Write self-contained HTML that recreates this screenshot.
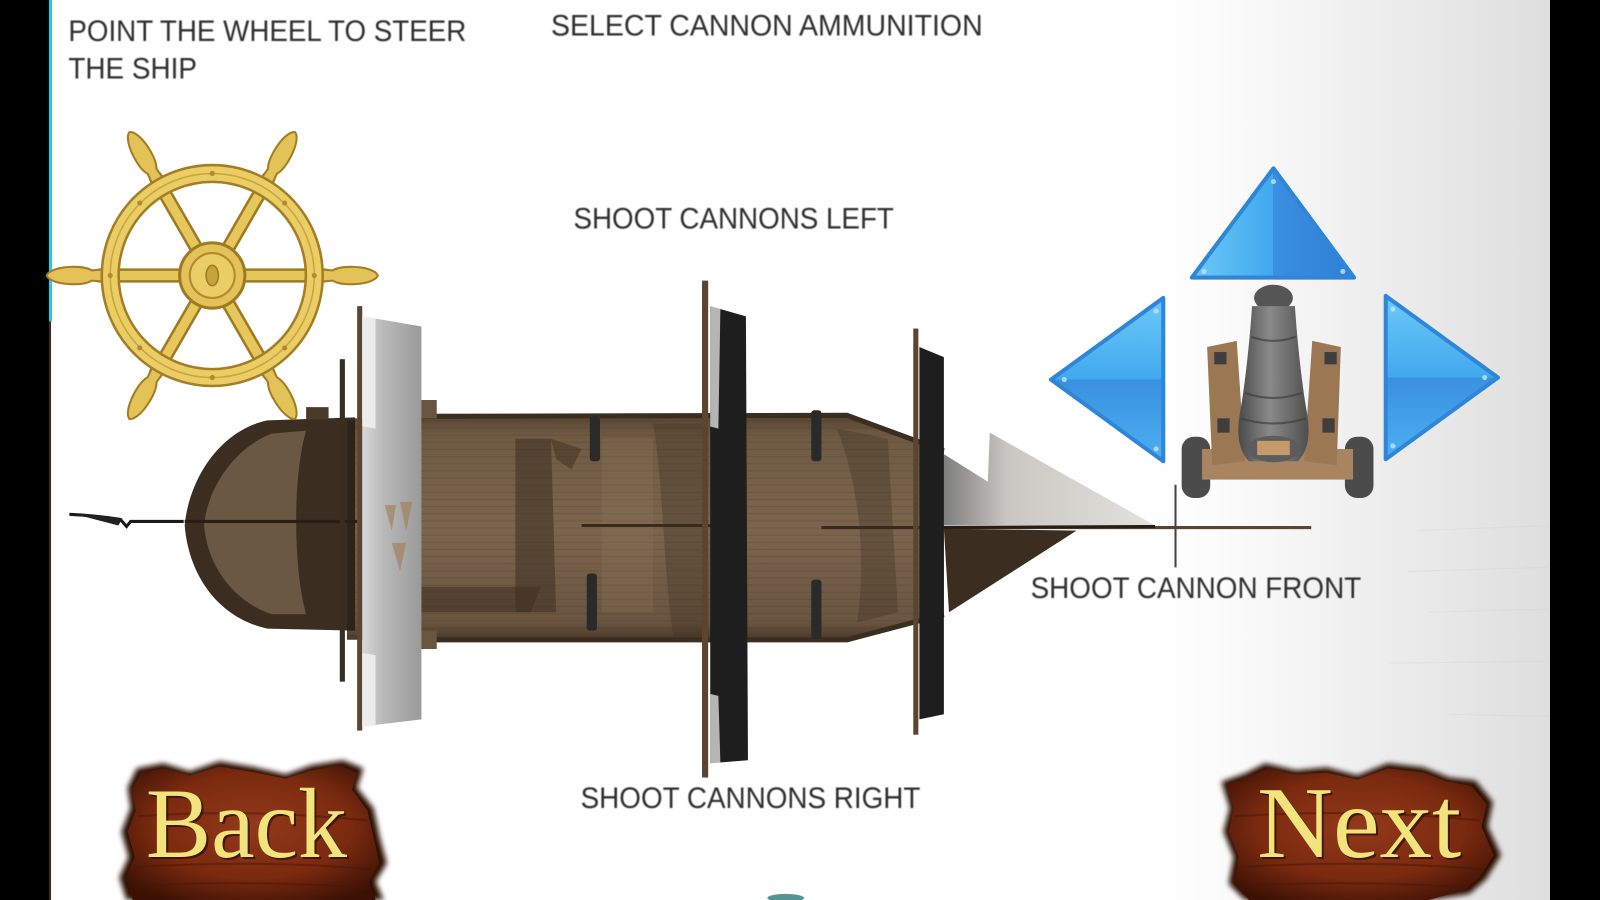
<!DOCTYPE html>
<html>
<head>
<meta charset="utf-8">
<style>
html,body{margin:0;padding:0;background:#fff;overflow:hidden;}
svg{display:block;}
</style>
</head>
<body>
<svg width="1600" height="900" viewBox="0 0 1568 882" xmlns="http://www.w3.org/2000/svg">
<defs>
  <linearGradient id="bgR" x1="0" y1="0" x2="1" y2="0">
    <stop offset="0" stop-color="#ffffff" stop-opacity="0"/>
    <stop offset="0.45" stop-color="#f4f4f4"/>
    <stop offset="1" stop-color="#dedede"/>
  </linearGradient>
  <linearGradient id="hull" x1="0" y1="0" x2="0" y2="1">
    <stop offset="0" stop-color="#5a4633"/>
    <stop offset="0.08" stop-color="#6f5a44"/>
    <stop offset="0.5" stop-color="#7b654e"/>
    <stop offset="0.92" stop-color="#6a5541"/>
    <stop offset="1" stop-color="#4a3a2a"/>
  </linearGradient>
  <linearGradient id="sailG" x1="0" y1="0" x2="1" y2="0">
    <stop offset="0" stop-color="#d8d8d8"/>
    <stop offset="0.35" stop-color="#b9b9b9"/>
    <stop offset="1" stop-color="#9a9a9a"/>
  </linearGradient>
  <linearGradient id="jib" x1="0" y1="0" x2="1" y2="0">
    <stop offset="0" stop-color="#7e7e7e"/>
    <stop offset="0.3" stop-color="#c9c7c2"/>
    <stop offset="1" stop-color="#e4e2dc"/>
  </linearGradient>
  <linearGradient id="barrel" x1="0" y1="0" x2="1" y2="0">
    <stop offset="0" stop-color="#4a4a4a"/>
    <stop offset="0.45" stop-color="#8a8a8a"/>
    <stop offset="1" stop-color="#4e4e4e"/>
  </linearGradient>
  <linearGradient id="blueUp" x1="0" y1="0" x2="1" y2="0">
    <stop offset="0" stop-color="#6cc9f7"/>
    <stop offset="0.5" stop-color="#3fa8ee"/>
    <stop offset="0.5" stop-color="#3a8fe0"/>
    <stop offset="1" stop-color="#2f7fd6"/>
  </linearGradient>
  <linearGradient id="blueL" x1="0" y1="0" x2="0" y2="1">
    <stop offset="0" stop-color="#6cc9f7"/>
    <stop offset="0.5" stop-color="#40a9ee"/>
    <stop offset="0.5" stop-color="#3a90e0"/>
    <stop offset="1" stop-color="#4bb0f0"/>
  </linearGradient>
  <radialGradient id="plank" cx="0.5" cy="0.45" r="0.65">
    <stop offset="0" stop-color="#93391a"/>
    <stop offset="0.6" stop-color="#7a2a0f"/>
    <stop offset="1" stop-color="#3c1104"/>
  </radialGradient>
  <filter id="soft" x="-10%" y="-10%" width="120%" height="120%">
    <feGaussianBlur stdDeviation="2.5"/>
  </filter>
  <filter id="txtb" x="-5%" y="-20%" width="110%" height="140%">
    <feGaussianBlur stdDeviation="0.6"/>
  </filter>
  <pattern id="planks" width="20" height="7" patternUnits="userSpaceOnUse">
    <rect width="20" height="7" fill="none"/>
    <line x1="0" y1="6.5" x2="20" y2="6.5" stroke="#3a2a1a" stroke-opacity="0.18" stroke-width="1"/>
  </pattern>
</defs>

<!-- background -->
<rect x="0" y="0" width="1568" height="882" fill="#ffffff"/>
<rect x="1080" y="0" width="440" height="882" fill="url(#bgR)"/>
<g stroke="#cfcfcf" stroke-opacity="0.35" stroke-width="1">
  <line x1="1380" y1="560" x2="1518" y2="556"/>
  <line x1="1400" y1="600" x2="1518" y2="597"/>
  <line x1="1360" y1="650" x2="1518" y2="648"/>
  <line x1="1420" y1="700" x2="1518" y2="702"/>
  <line x1="1390" y1="520" x2="1518" y2="515"/>
</g>

<!-- side bars -->
<rect x="0" y="0" width="48" height="882" fill="#000"/>
<rect x="48" y="0" width="3" height="315" fill="#27c8e8"/>
<rect x="48" y="315" width="2" height="567" fill="#3a2a1e"/>
<rect x="1519" y="0" width="49" height="882" fill="#000"/>

<!-- texts -->
<g font-family="'Liberation Sans', Arial, sans-serif" font-size="29" fill="#2e2e2e" filter="url(#txtb)">
  <text x="67" y="40" textLength="390" lengthAdjust="spacingAndGlyphs">POINT THE WHEEL TO STEER</text>
  <text x="67" y="77" textLength="126" lengthAdjust="spacingAndGlyphs">THE SHIP</text>
  <text x="540" y="35" textLength="423" lengthAdjust="spacingAndGlyphs">SELECT CANNON AMMUNITION</text>
  <text x="562" y="224" textLength="314" lengthAdjust="spacingAndGlyphs">SHOOT CANNONS LEFT</text>
  <text x="569" y="792" textLength="333" lengthAdjust="spacingAndGlyphs">SHOOT CANNONS RIGHT</text>
  <text x="1010" y="586" textLength="324" lengthAdjust="spacingAndGlyphs">SHOOT CANNON FRONT</text>
</g>

<!-- ===== SHIP ===== -->
<!-- stern pennant & spar -->
<path d="M68,504 C90,505 105,507 118,509 L124,516 L128,511 L180,511" fill="none" stroke="#1a1a1a" stroke-width="3"/>
<path d="M70,503 L120,508 L116,515 Z" fill="#222"/>

<!-- main hull -->
<path d="M340,410 L830,409 L925,443 L925,602 L830,627 L340,627 Z" fill="url(#hull)"/>
<path d="M340,410 L830,409 L925,443 L925,602 L830,627 L340,627 Z" fill="url(#planks)"/>
<!-- rails -->
<path d="M413,408 L830,407 L925,442" fill="none" stroke="#3b2d20" stroke-width="5"/>
<path d="M413,627 L830,627 L925,602" fill="none" stroke="#3b2d20" stroke-width="5"/>
<!-- deck shadows -->
<path d="M505,430 L540,430 L545,600 L505,600 Z" fill="#3e3022" opacity="0.55"/>
<path d="M540,430 L570,440 L560,460 L545,450 Z" fill="#3e3022" opacity="0.5"/>
<path d="M413,575 L530,575 L520,600 L413,600 Z" fill="#3e3022" opacity="0.55"/>
<path d="M640,415 L690,415 L690,625 L660,625 C650,560 650,470 640,415 Z" fill="#3e3022" opacity="0.35"/>
<path d="M820,420 L870,430 L880,600 L840,610 C850,540 840,470 820,420 Z" fill="#3e3022" opacity="0.35"/>
<path d="M590,430 L640,430 L640,600 L590,600 Z" fill="#8a735a" opacity="0.3"/>
<!-- spars -->
<line x1="570" y1="515" x2="700" y2="515" stroke="#3a2a1c" stroke-width="3"/>
<line x1="805" y1="517" x2="925" y2="517" stroke="#3a2a1c" stroke-width="3"/>
<!-- deck cannons -->
<g fill="#2a2a2a">
  <rect x="578" y="408" width="10" height="44" rx="3"/>
  <rect x="795" y="402" width="10" height="50" rx="3"/>
  <rect x="575" y="562" width="10" height="56" rx="3"/>
  <rect x="795" y="568" width="10" height="58" rx="3"/>
</g>

<!-- stern -->
<path d="M348,409 L262,412 C215,422 185,470 181,515 C185,565 215,606 262,616 L348,618 Z" fill="#3b2d20"/>
<path d="M300,422 L266,425 C228,440 203,480 200,515 C203,552 226,588 266,602 L300,602 C288,560 286,470 300,422 Z" fill="#6a5845"/>
<path d="M340,412 L348,412 L348,618 L340,618 Z" fill="#2e2318"/>
<rect x="300" y="399" width="22" height="12" fill="#4a3a2a"/>
<rect x="412" y="392" width="16" height="18" fill="#6a5541"/>
<rect x="412" y="618" width="16" height="18" fill="#6a5541"/>
<line x1="181" y1="511" x2="350" y2="511" stroke="#2a1e14" stroke-width="3"/>

<!-- mast 1 -->
<rect x="333" y="352" width="5" height="316" fill="#3a2c1f"/>
<rect x="350" y="300" width="5" height="416" fill="#5b4530"/>
<path d="M355,310 L413,320 L413,705 L355,712 Z" fill="url(#sailG)"/>
<path d="M355,310 L368,312 L368,420 L355,418 Z" fill="#f2f2f2" opacity="0.8"/>
<path d="M355,640 L368,642 L368,712 L355,712 Z" fill="#f2f2f2" opacity="0.8"/>
<g fill="#a57a50" opacity="0.6">
  <path d="M377,495 L388,495 L384,520 Z"/>
  <path d="M392,492 L404,492 L398,520 Z"/>
  <path d="M384,532 L398,532 L392,560 Z"/>
</g>

<!-- mast 2 -->
<rect x="688" y="275" width="6" height="487" fill="#5b4530"/>
<path d="M696,300 L731,310 L733,745 L696,748 Z" fill="#1e1e1e"/>
<path d="M696,300 L706,302 L704,420 L696,418 Z" fill="#e8e8e8" opacity="0.75"/>
<path d="M696,680 L704,682 L706,748 L696,748 Z" fill="#e8e8e8" opacity="0.75"/>

<!-- jib sail -->
<path d="M925,445 L968,472 L970,424 L1132,515 L925,515 Z" fill="url(#jib)"/>
<!-- bow lower -->
<path d="M925,518 L1055,520 L930,600 Z" fill="#3b2d20"/>
<!-- bowsprit -->
<line x1="925" y1="517" x2="1285" y2="517" stroke="#5a4530" stroke-width="3"/>
<line x1="925" y1="517" x2="1132" y2="516" stroke="#2a1e14" stroke-width="3"/>
<line x1="1152" y1="475" x2="1152" y2="556" stroke="#444" stroke-width="2"/>

<!-- mast 3 -->
<rect x="895" y="322" width="5" height="398" fill="#5b4530"/>
<path d="M901,340 L925,350 L925,700 L901,705 Z" fill="#1e1e1e"/>

<!-- ===== WHEEL ===== -->
<g transform="translate(208,270)">
  <g id="spk">
    <line x1="26" y1="0" x2="110" y2="0" stroke="#a07a22" stroke-width="14" stroke-linecap="round"/>
    <line x1="26" y1="0" x2="110" y2="0" stroke="#e6c75c" stroke-width="9" stroke-linecap="round"/>
    <path d="M106,-6 L118,-5 C126,-10 150,-10 160,-3 C163,0 163,0 160,3 C150,10 126,10 118,5 L106,6 Z" fill="#e3c257" stroke="#a37d22" stroke-width="2"/>
  </g>
  <use href="#spk" transform="rotate(60)"/>
  <use href="#spk" transform="rotate(120)"/>
  <use href="#spk" transform="rotate(180)"/>
  <use href="#spk" transform="rotate(240)"/>
  <use href="#spk" transform="rotate(300)"/>
  <circle r="100" fill="none" stroke="#a47e25" stroke-width="19"/>
  <circle r="100" fill="none" stroke="#ebcd66" stroke-width="14"/>
  <circle r="100" fill="none" stroke="#c9a53f" stroke-width="1.5"/>
  <circle r="32" fill="#e2c259" stroke="#9e7a22" stroke-width="3"/>
  <circle r="22" fill="#ebcd66" stroke="#b08a2c" stroke-width="2"/>
  <ellipse cx="0" cy="0" rx="6" ry="10" fill="#c9a23a" stroke="#9e7a22" stroke-width="1.5"/>
  <g fill="#b08a2c">
    <circle cx="100" cy="0" r="2.5"/><circle cx="-100" cy="0" r="2.5"/>
    <circle cx="0" cy="100" r="2.5"/><circle cx="0" cy="-100" r="2.5"/>
    <circle cx="71" cy="71" r="2.5"/><circle cx="-71" cy="71" r="2.5"/>
    <circle cx="71" cy="-71" r="2.5"/><circle cx="-71" cy="-71" r="2.5"/>
  </g>
</g>

<!-- ===== ARROWS ===== -->
<path d="M1248,165 L1327,272 L1168,272 Z" fill="url(#blueUp)" stroke="#2f86d8" stroke-width="4" stroke-linejoin="round"/>
<path d="M1030,372 L1140,292 L1140,452 Z" fill="url(#blueL)" stroke="#2f86d8" stroke-width="4" stroke-linejoin="round"/>
<path d="M1468,370 L1358,290 L1358,450 Z" fill="url(#blueL)" stroke="#2f86d8" stroke-width="4" stroke-linejoin="round"/>
<g fill="#bfe6ff" opacity="0.8">
  <circle cx="1248" cy="178" r="2.5"/><circle cx="1180" cy="266" r="2.5"/><circle cx="1316" cy="266" r="2.5"/>
  <circle cx="1133" cy="305" r="2.5"/><circle cx="1043" cy="372" r="2.5"/><circle cx="1133" cy="440" r="2.5"/>
  <circle cx="1365" cy="303" r="2.5"/><circle cx="1455" cy="370" r="2.5"/><circle cx="1365" cy="437" r="2.5"/>
</g>

<!-- ===== CANNON ===== -->
<rect x="1158" y="428" width="28" height="60" rx="12" fill="#4b4b4b"/>
<rect x="1318" y="428" width="28" height="60" rx="12" fill="#4b4b4b"/>
<rect x="1178" y="440" width="148" height="30" fill="#a88560"/>
<path d="M1183,340 L1212,334 L1220,452 L1188,456 Z" fill="#9b7753"/>
<path d="M1286,334 L1314,340 L1310,456 L1278,452 Z" fill="#9b7753"/>
<g fill="#3e3e3e">
  <rect x="1190" y="345" width="12" height="12"/><rect x="1298" y="345" width="12" height="12"/>
  <rect x="1193" y="410" width="12" height="14"/><rect x="1296" y="410" width="12" height="14"/>
</g>
<ellipse cx="1248" cy="292" rx="19" ry="13" fill="#555"/>
<path d="M1227,300 C1225,330 1221,370 1216,400 C1212,420 1212,440 1224,452 L1272,452 C1284,440 1284,420 1280,400 C1275,370 1271,330 1269,300 Z" fill="url(#barrel)"/>
<g fill="none" stroke="#3f3f3f" stroke-width="2" opacity="0.7">
  <path d="M1226,330 Q1248,338 1270,330"/>
  <path d="M1220,385 Q1248,395 1276,385"/>
  <path d="M1216,410 Q1248,420 1280,410"/>
</g>
<ellipse cx="1248" cy="440" rx="26" ry="13" fill="#5c5c5c"/>
<rect x="1232" y="432" width="32" height="14" fill="#c49a6a"/>

<!-- ===== BUTTONS ===== -->
<g>
  <path d="M125,772 L134,753 L160,748 L186,756 L215,746 L250,752 L280,759 L305,750 L336,745 L356,753 L350,772 L366,792 L372,820 L379,846 L368,864 L376,882 L124,882 L117,860 L126,840 L119,815 L128,792 Z" fill="#2a0a02" filter="url(#soft)"/>
  <path d="M129,774 L138,757 L160,753 L186,760 L215,751 L250,757 L280,763 L305,755 L333,750 L350,757 L345,774 L360,794 L366,820 L372,846 L362,864 L368,882 L130,882 L123,860 L132,840 L125,815 L133,794 Z" fill="url(#plank)"/>
  <g stroke="#4a1505" stroke-opacity="0.5" stroke-width="2" fill="none">
    <path d="M135,800 Q240,792 360,804"/>
    <path d="M130,850 Q250,842 368,852"/>
    <path d="M140,868 Q240,862 360,870"/>
  </g>
  <text x="143" y="840" font-family="'Liberation Serif', 'Times New Roman', serif" font-size="98" fill="#1e0600" textLength="197" lengthAdjust="spacingAndGlyphs" opacity="0.6" transform="translate(2,2)">Back</text>
  <text x="143" y="840" font-family="'Liberation Serif', 'Times New Roman', serif" font-size="98" fill="#f2e47c" textLength="197" lengthAdjust="spacingAndGlyphs">Back</text>
</g>
<g>
  <path d="M1205,792 L1197,766 L1220,758 L1240,748 L1270,755 L1300,752 L1330,760 L1360,748 L1395,752 L1420,762 L1446,765 L1463,786 L1458,810 L1471,838 L1456,862 L1440,876 L1400,882 L1220,882 L1204,866 L1209,840 L1199,815 Z" fill="#2a0a02" filter="url(#soft)"/>
  <path d="M1209,792 L1202,769 L1222,762 L1242,753 L1270,759 L1300,757 L1330,764 L1360,753 L1395,757 L1418,766 L1442,770 L1457,788 L1452,810 L1464,838 L1450,860 L1436,872 L1400,882 L1224,882 L1209,866 L1214,840 L1204,815 Z" fill="url(#plank)"/>
  <g stroke="#4a1505" stroke-opacity="0.5" stroke-width="2" fill="none">
    <path d="M1210,800 Q1330,792 1450,804"/>
    <path d="M1212,850 Q1330,842 1455,852"/>
    <path d="M1220,868 Q1330,862 1440,870"/>
  </g>
  <text x="1232" y="840" font-family="'Liberation Serif', 'Times New Roman', serif" font-size="100" fill="#1e0600" textLength="200" lengthAdjust="spacingAndGlyphs" opacity="0.6" transform="translate(2,2)">Next</text>
  <text x="1232" y="840" font-family="'Liberation Serif', 'Times New Roman', serif" font-size="100" fill="#f2e47c" textLength="200" lengthAdjust="spacingAndGlyphs">Next</text>
</g>

<!-- teal blob bottom -->
<ellipse cx="770" cy="880" rx="18" ry="4" fill="#2a7a78" opacity="0.8"/>
</svg>
</body>
</html>
